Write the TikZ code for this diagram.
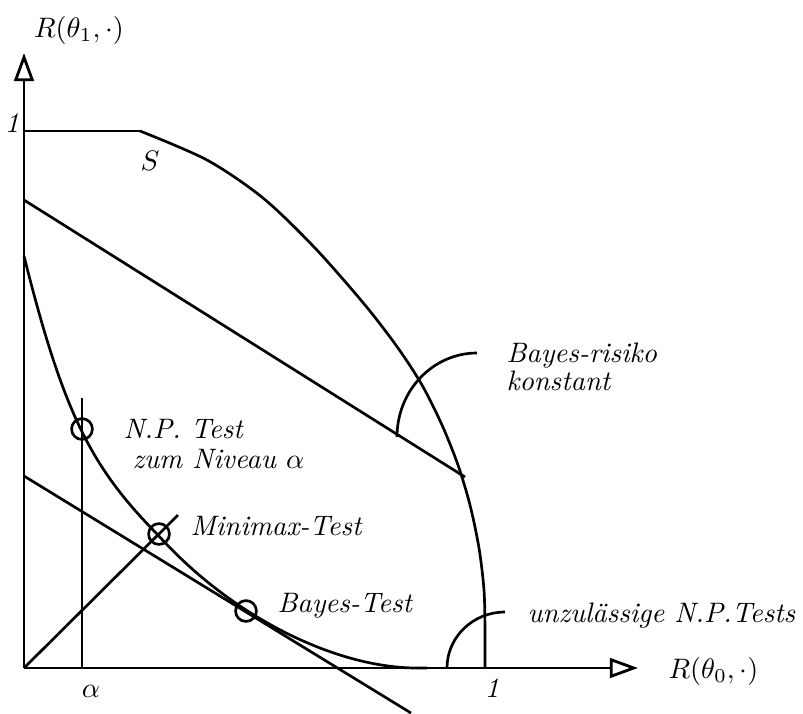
\documentclass[tikz,border=0pt]{standalone}
\usetikzlibrary{arrows.meta}
\begin{document}
\begin{tikzpicture}[x=0.355pt,y=-0.355pt,
  axis/.style={line width=1pt,-{Triangle[open,length=10pt,width=7pt,line width=1pt]}},
  curve/.style={line width=0.95pt},
  mark circ/.style={circle,draw,line width=0.95pt,minimum size=7.4pt,inner sep=0pt},
  lbl/.style={font=\itshape,anchor=base west,inner sep=0pt},
  mlbl/.style={anchor=base,inner sep=0pt}]
\useasboundingbox (0,0) rectangle (803,713);
% named points
\coordinate (O) at (24,668);
\coordinate (Xend) at (638,668);
\coordinate (Yend) at (24,53);
\coordinate (Y1) at (24,131);
\coordinate (Scorner) at (140,131);
\coordinate (BRa) at (24,200);
\coordinate (BRb) at (465,477);
\coordinate (Ta) at (24,476);
\coordinate (Tb) at (411,713);
\coordinate (Da) at (178,515);
\coordinate (Atop) at (82,398);
\coordinate (Abot) at (82,668);
\coordinate (Lstart) at (24,256);
\coordinate (Lmid) at (158,535);
\coordinate (Lend) at (417,668);
\coordinate (Lend2) at (427,668);
% axes
\draw[axis] (O) -- (Xend);
\draw[axis] (O) -- (Yend);
% set S boundary
\draw[curve] (Y1) -- (Scorner);
\draw[curve] plot[smooth,tension=0.5] coordinates {(140,131) (207,160) (263,198) (315,248) (365,305) (398,348) (422,385) (442,425) (458,465) (470,505) (479,548) (484,590) (485,630) (485,668)};
% lower boundary curve
\draw[curve] (Lstart) .. controls (64,416) and (92.4,468.4) .. (Lmid)
  .. controls (233,618.2) and (337,668) .. (Lend) -- (Lend2);
% lines
\draw[curve] (BRa) -- (BRb);
\draw[curve] (Ta) -- (Tb);
\draw[curve] (O) -- (Da);
\draw[curve] (Atop) -- (Abot);
% arcs
\draw[curve] (397,437) arc[start angle=180,end angle=270,x radius=80,y radius=84];
\draw[curve] (447,668) arc[start angle=180,end angle=270,x radius=58,y radius=56];
% marked points
\node[mark circ] (np) at (82,429) {};
\node[mark circ] (mm) at (159,534) {};
\node[mark circ] (bt) at (246,611) {};
% labels
\node[mlbl] (ly) at (79,37) {$R(\theta_1,\cdot)$};
\node[lbl] (lx) at (668,678) {$R(\theta_0,\cdot)$};
\node[mlbl,font=\itshape] (one1) at (12,132) {1};
\node[mlbl,font=\itshape] (one2) at (492,697) {1};
\node[mlbl] (al) at (91,697) {$\alpha$};
\node[mlbl] (S) at (150,170) {$S$};
\node[lbl] (t1) at (123,438) {N.P.\ Test};
\node[lbl] (t2) at (132,468) {zum Niveau $\alpha$};
\node[lbl] (t3) at (190,535) {Minimax-Test};
\node[lbl] (t4) at (277,612) {Bayes-Test};
\node[lbl] (t5) at (506,362) {Bayes-risiko};
\node[lbl] (t6) at (506,390) {konstant};
\node[lbl] (t7) at (527,622) {unzul\"assige N.P.Tests};
\end{tikzpicture}
\end{document}
